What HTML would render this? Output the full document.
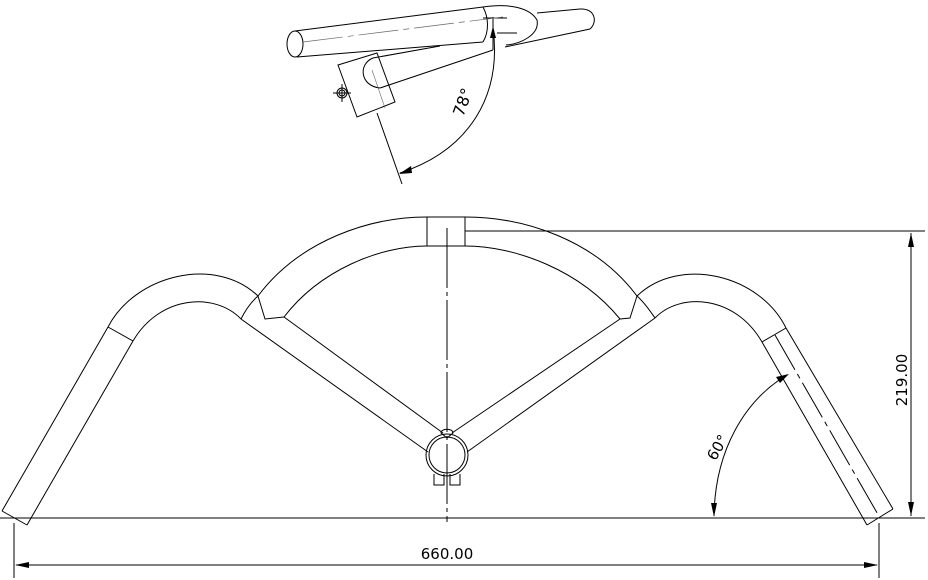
<!DOCTYPE html>
<html><head><meta charset="utf-8"><style>
html,body{margin:0;padding:0;background:#fff;}
svg{display:block;}
text{font-family:"DejaVu Sans","Liberation Sans",sans-serif;fill:#000;}
</style></head><body>
<svg width="928" height="580" viewBox="0 0 928 580" xmlns="http://www.w3.org/2000/svg">
<g fill="none" stroke="#000" stroke-width="1">
<!-- top view -->
<ellipse cx="295" cy="44" rx="8" ry="13"/>
<path d="M295,31 L483,7 M297,57 L483,42"/>
<path d="M483,7 C510,3 530,8 537,20 C540,35 520,44 506,45"/>
<path d="M483,7 C489,18 489,32 483,42"/>
<path d="M537,13 L580,9 C595,8 598,22 590,29 L505,47"/>
<path d="M440,46 L373,58 C358,64 360,86 380,88 L493,50"/>
<polygon points="338,65 377,53 395,102 357,117"/>
<circle cx="342" cy="93" r="5"/><circle cx="342" cy="93" r="3"/>
<path d="M333,93 L351,93 M342,84 L342,102"/>
<path d="M377,113 L402,184"/>
<path d="M493,17 L493,50 M483,18 L507,18 M497,33 L517,33"/>
<path d="M493,28 C502,95 470,150 400,173"/>
<path d="M303,42 L503,17" stroke="#666" stroke-dasharray="40,5,6,5" stroke-width="0.7"/>
<path d="M372,70 L385,108" stroke="#666" stroke-width="0.6"/>
<!-- front view left -->
<path d="M2,511 L108,327 M27,525 L133,341 M2,511 L27,525 M108,327 L133,341"/>
<path d="M108,327 C135,275 215,255 258,296"/>
<path d="M133,341 C160,295 215,292 241,319"/>
<path d="M258,296 C250,303 245,311 241,319"/>
<path d="M258,296 L265,319 L284,317"/>
<path d="M241,319 L428,452 M284,317 L443,433"/>
<!-- right -->
<path d="M893,509 L786,328 M867,525 L762,342 M867,525 L893,509 M762,342 L786,328"/>
<path d="M786,328 C760,275 680,255 637,296"/>
<path d="M762,342 C735,295 680,292 655,318"/>
<path d="M637,296 C645,303 650,311 655,318"/>
<path d="M637,296 L630,318 L620,319"/>
<path d="M655,318 L467,452 M620,319 L452,433"/>
<path d="M775,335 L880,518" stroke-dasharray="40,5,5,5"/>
<!-- arch -->
<path d="M258,296 C300,240 370,217 427,217 L465,217 C525,217 595,240 637,296"/>
<path d="M284,317 C320,270 380,246 427,246 L465,246 C515,246 580,270 620,319"/>
<path d="M427,217 L427,246 M465,217 L465,246"/>
<!-- clamp -->
<circle cx="447" cy="455" r="21"/>
<circle cx="447" cy="455" r="18"/>
<path d="M434,474 L434,485 L444,485 L444,474 M450,474 L450,485 L460,485 L460,474"/>
<path d="M441,433 C441,428 453,428 453,433 L447,438 Z"/>
<!-- center line -->
<path d="M447,228 L447,522" stroke-dasharray="60,4,4,4"/>
<!-- dims -->
<path d="M0,518 L925,518"/>
<path d="M465,231 L925,231"/>
<path d="M911,233 L911,516"/>
<path d="M14,523 L14,578 M879,523 L879,578"/>
<path d="M16,565 L877,565"/>
<path d="M787,375 C745,400 715,450 714,516"/>
</g>
<g fill="#000">
<polygon points="911,233 908,247 914,247"/>
<polygon points="911,516 908,502 914,502"/>
<polygon points="15,565 29,562 29,568"/>
<polygon points="878,565 864,562 864,568"/>
<polygon points="714,517 711,503 717,503"/>
<polygon points="789,374 776,377 780,383"/>
<polygon points="493,26 490,38 496,38"/>
<polygon points="399,174 411,166 412,173"/>
</g>
<text x="447" y="559" font-size="15" text-anchor="middle">660.00</text>
<text transform="translate(907,380) rotate(-90)" font-size="15" text-anchor="middle">219.00</text>
<text transform="translate(722,450) rotate(-60)" font-size="15" text-anchor="middle">60°</text>
<text transform="translate(468,104) rotate(-70)" font-size="16" text-anchor="middle">78°</text>
</svg>
</body></html>
